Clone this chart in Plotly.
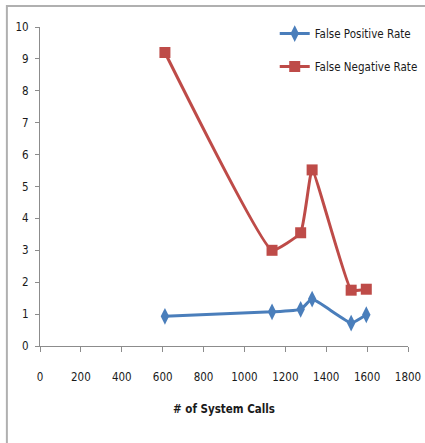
import plotly.graph_objects as go

# Number of system calls monitored
system_calls = [611, 1135, 1275, 1331, 1522, 1596]
# Detection error rates (%)
false_positive_rate = [0.93, 1.07, 1.15, 1.47, 0.72, 0.98]
false_negative_rate = [9.2, 3.0, 3.55, 5.52, 1.75, 1.78]

x_ticks = [0, 200, 400, 600, 800, 1000, 1200, 1400, 1600, 1800]
y_ticks = list(range(0, 11))

FONT = "DejaVu Sans Condensed, Liberation Sans Narrow, Roboto, sans-serif"
BLUE = "#4A7EBB"
RED = "#BE4B48"
AXIS = "#8C8C8C"

fig = go.Figure()
fig.add_trace(go.Scatter(
    x=system_calls, y=false_positive_rate, name="False Positive Rate",
    mode="lines+markers", legendgroup="fpr",
    line=dict(color=BLUE, width=3, shape="spline", smoothing=0.35),
    marker=dict(symbol="diamond-tall", size=12, color=BLUE),
))
fig.add_trace(go.Scatter(
    x=system_calls, y=false_negative_rate, name="False Negative Rate",
    mode="lines+markers", legendgroup="fnr",
    line=dict(color=RED, width=3, shape="spline", smoothing=0.35),
    marker=dict(symbol="square", size=11, color=RED),
))

fig.update_layout(
    width=425, height=443,
    margin=dict(l=40, r=17, t=27, b=97, autoexpand=False),
    paper_bgcolor="white", plot_bgcolor="white",
    font=dict(family=FONT, size=11.5, color="#1a1a1a"),
    showlegend=True,
    legend=dict(
        x=1.04, y=1.025, xanchor="right", yanchor="top",
        bgcolor="rgba(0,0,0,0)", traceorder="grouped",
        tracegroupgap=14, itemwidth=30,
        font=dict(family=FONT, size=11.5),
    ),
    shapes=[dict(
        type="rect", xref="paper", yref="paper",
        x0=-0.090, x1=1.3, y0=-0.6, y1=1.066,
        line=dict(color="#B0B0B0", width=2), layer="below",
    )],
)
fig.update_xaxes(
    range=[0, 1800], tickvals=x_ticks, ticktext=[str(v) for v in x_ticks],
    showgrid=False, zeroline=False, showline=True, linecolor=AXIS, linewidth=1,
    ticks="outside", ticklen=5, tickcolor=AXIS, ticklabelstandoff=15,
    title=dict(text="<b># of System Calls</b>", standoff=22,
               font=dict(family=FONT, size=11.5)),
)
fig.update_yaxes(
    range=[0, 10], tickvals=y_ticks,
    showgrid=False, zeroline=False, showline=True, linecolor=AXIS, linewidth=1,
    ticks="outside", ticklen=4, tickcolor=AXIS, ticklabelstandoff=4,
)

fig.write_html("out.html")
